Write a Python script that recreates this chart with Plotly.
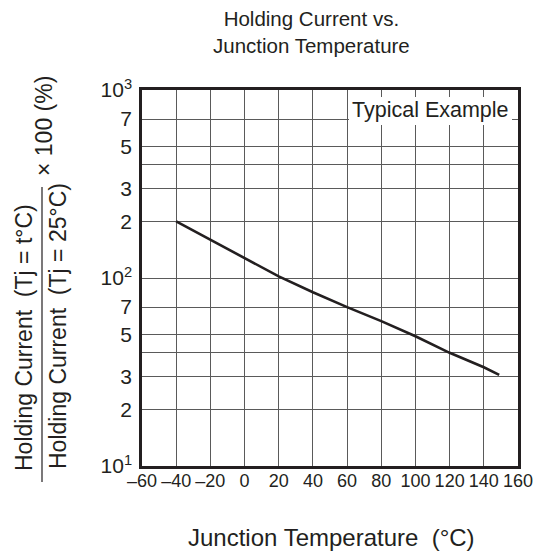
import plotly.graph_objects as go

# Data
temp_c = [-40, -20, 0, 20, 40, 60, 80, 100, 120, 140, 149]
ratio_pct = [200, 160, 128, 102, 84, 70, 59, 49, 40, 33.5, 30.5]

x_tick_vals = [-60, -40, -20, 0, 20, 40, 60, 80, 100, 120, 140, 160]
x_tick_text = ["\u201360", "\u201340", "\u201320", "0", "20", "40", "60", "80", "100", "120", "140", "160"]
y_tick_vals = [10, 20, 30, 50, 70, 100, 200, 300, 500, 700, 1000]
y_tick_text = ["10<sup>1</sup>", "2", "3", "5", "7", "10<sup>2</sup>", "2", "3", "5", "7", "10<sup>3</sup>"]
y_minor_grid_vals = [40, 400]

INK = "#231f20"
GRID = "#5a5a5a"
FONT = "Liberation Sans, Arial, sans-serif"

OFF = 8  # page body margin
# plot area in screen pixels
SL, SR, ST, SB = 142, 518, 90, 466
W, H = 544 - OFF, 553 - OFF

def px(x):
    return (x - SL) / (SR - SL)

def py(y):
    return (SB - y) / (SB - ST)

fig = go.Figure()
fig.add_trace(go.Scatter(x=temp_c, y=ratio_pct, mode="lines",
                         line=dict(color=INK, width=2.6), showlegend=False,
                         hoverinfo="skip"))

fig.update_layout(
    width=W, height=H,
    margin=dict(l=SL - OFF, r=544 - SR, t=ST - OFF, b=553 - SB),
    paper_bgcolor="white", plot_bgcolor="white",
    font=dict(family=FONT, color=INK, size=17),
    showlegend=False,
)
fig.update_xaxes(
    range=[-60, 160], tickvals=x_tick_vals, ticktext=x_tick_text,
    showgrid=True, gridcolor=GRID, gridwidth=1,
    showline=True, linecolor=INK, linewidth=2.5, mirror=True,
    ticks="", ticklabelstandoff=-3, tickangle=0, zeroline=False,
    tickfont=dict(size=18, color=INK),
)
fig.update_yaxes(
    type="log", range=[1, 3], tickvals=y_tick_vals, ticktext=y_tick_text,
    showgrid=True, gridcolor=GRID, gridwidth=1,
    minor=dict(tickvals=y_minor_grid_vals, showgrid=True, gridcolor=GRID, gridwidth=1, ticks=""),
    showline=True, linecolor=INK, linewidth=2.5, mirror=True,
    ticks="", ticklabelstandoff=3, zeroline=False,
    tickfont=dict(size=21, color=INK),
)

# white box behind "Typical Example"
fig.add_shape(type="rect", xref="paper", yref="paper",
              x0=px(349), x1=px(512), y0=py(125), y1=py(97),
              fillcolor="white", line=dict(width=0), layer="above")
fig.add_annotation(text="Typical Example", xref="paper", yref="paper",
                   x=px(430), y=py(110), showarrow=False,
                   font=dict(size=21.5, color=INK), xanchor="center", yanchor="middle")

# Chart title
fig.add_annotation(text="Holding Current vs.<br>Junction Temperature", xref="paper", yref="paper",
                   x=px(311), y=py(32), showarrow=False, align="center",
                   font=dict(size=20.5, color=INK), xanchor="center", yanchor="middle")

# X axis title
fig.add_annotation(text="Junction Temperature  (\u00b0C)", xref="paper", yref="paper",
                   x=px(331), y=py(537), showarrow=False,
                   font=dict(size=24, color=INK), xanchor="center", yanchor="middle")

# Y axis label as fraction
fig.add_annotation(text="Holding Current  (Tj = t\u00b0C)", xref="paper", yref="paper",
                   x=px(24), y=py(338), textangle=-90, showarrow=False,
                   font=dict(size=23, color=INK), xanchor="center", yanchor="middle")
fig.add_annotation(text="Holding Current  (Tj = 25\u00b0C)", xref="paper", yref="paper",
                   x=px(58), y=py(326), textangle=-90, showarrow=False,
                   font=dict(size=23, color=INK), xanchor="center", yanchor="middle")
fig.add_shape(type="line", xref="paper", yref="paper",
              x0=px(42), x1=px(42), y0=py(482), y1=py(187),
              line=dict(color=INK, width=1.2))
fig.add_annotation(text="\u00d7 100 (%)", xref="paper", yref="paper",
                   x=px(44), y=py(126), textangle=-90, showarrow=False,
                   font=dict(size=23, color=INK), xanchor="center", yanchor="middle")

fig.write_html("out.html")
